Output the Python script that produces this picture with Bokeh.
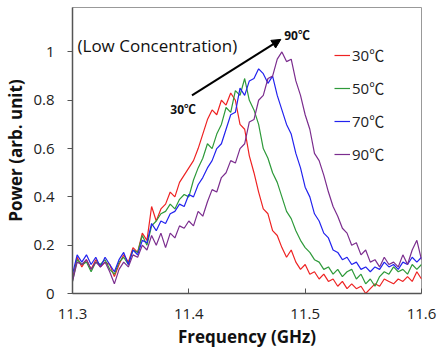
from bokeh.plotting import figure
from bokeh.models import Range1d, FixedTicker, Legend, LegendItem, Label, Arrow, NormalHead
from bokeh.embed import file_html
from bokeh.resources import INLINE

# Frequency grid (GHz)
freq = [round(11.3 + 0.004 * i, 3) for i in range(76)]

p30 = [0.06, 0.15, 0.11, 0.14, 0.10, 0.14, 0.11, 0.13, 0.12, 0.07,
       0.12, 0.16, 0.13, 0.19, 0.17, 0.25, 0.22, 0.36, 0.30, 0.35,
       0.37, 0.42, 0.40, 0.46, 0.49, 0.52, 0.55, 0.60, 0.66, 0.72,
       0.76, 0.74, 0.80, 0.78, 0.83, 0.80, 0.70, 0.68, 0.57, 0.50,
       0.42, 0.35, 0.33, 0.26, 0.24, 0.19, 0.15, 0.18, 0.13, 0.10,
       0.12, 0.08, 0.09, 0.06, 0.08, 0.05, 0.06, 0.03, 0.05, 0.02,
       0.04, 0.02, 0.03, 0.00, 0.02, 0.04, 0.03, 0.06, 0.05, 0.04,
       0.06, 0.05, 0.07, 0.05, 0.09, 0.06]

p50 = [0.05, 0.14, 0.12, 0.13, 0.09, 0.13, 0.12, 0.14, 0.10, 0.08,
       0.13, 0.15, 0.12, 0.18, 0.17, 0.24, 0.20, 0.28, 0.30, 0.33,
       0.34, 0.37, 0.35, 0.39, 0.41, 0.40, 0.47, 0.52, 0.56, 0.62,
       0.60, 0.66, 0.70, 0.77, 0.75, 0.84, 0.82, 0.89, 0.80, 0.76,
       0.70, 0.60, 0.56, 0.50, 0.46, 0.40, 0.34, 0.31, 0.26, 0.22,
       0.19, 0.17, 0.14, 0.13, 0.10, 0.11, 0.08, 0.10, 0.07, 0.09,
       0.10, 0.06, 0.08, 0.04, 0.06, 0.03, 0.07, 0.09, 0.08, 0.11,
       0.09, 0.10, 0.08, 0.12, 0.10, 0.12]

p70 = [0.08, 0.16, 0.13, 0.16, 0.12, 0.15, 0.11, 0.15, 0.12, 0.09,
       0.14, 0.17, 0.12, 0.18, 0.16, 0.22, 0.21, 0.29, 0.26, 0.30,
       0.29, 0.33, 0.34, 0.37, 0.36, 0.41, 0.40, 0.45, 0.48, 0.52,
       0.55, 0.60, 0.62, 0.68, 0.74, 0.75, 0.85, 0.82, 0.88, 0.89,
       0.93, 0.91, 0.87, 0.90, 0.82, 0.76, 0.70, 0.66, 0.58, 0.52,
       0.44, 0.40, 0.33, 0.30, 0.25, 0.23, 0.18, 0.17, 0.14, 0.15,
       0.12, 0.13, 0.10, 0.11, 0.09, 0.11, 0.10, 0.13, 0.11, 0.12,
       0.10, 0.13, 0.12, 0.15, 0.13, 0.15]

p90 = [0.05, 0.13, 0.12, 0.14, 0.10, 0.13, 0.11, 0.13, 0.09, 0.04,
       0.10, 0.13, 0.11, 0.16, 0.15, 0.20, 0.18, 0.24, 0.20, 0.25,
       0.19, 0.25, 0.23, 0.28, 0.27, 0.30, 0.28, 0.34, 0.32, 0.38,
       0.43, 0.42, 0.48, 0.50, 0.55, 0.54, 0.60, 0.62, 0.71, 0.72,
       0.80, 0.82, 0.89, 0.90, 0.97, 1.00, 0.96, 0.97, 0.88, 0.82,
       0.74, 0.68, 0.58, 0.55, 0.49, 0.42, 0.36, 0.32, 0.27, 0.25,
       0.20, 0.21, 0.16, 0.18, 0.13, 0.14, 0.11, 0.15, 0.12, 0.13,
       0.11, 0.16, 0.12, 0.18, 0.22, 0.14]

series_labels = ["30℃", "50℃", "70℃", "90℃"]
series_values = [p30, p50, p70, p90]
series_colors = ["#ee2222", "#2e9a3a", "#2222ee", "#7b2d8e"]

x_ticks = [11.3, 11.4, 11.5, 11.6]
y_ticks = [0, 0.2, 0.4, 0.6, 0.8, 1.0]
y_tick_labels = ["0", "0.2", "0.4", "0.6", "0.8", "1"]

FONT = "Open Sans"
FONT_C = "Open Sans, Noto Sans CJK JP"

p = figure(width=438, height=354, output_backend="svg", toolbar_location=None,
           x_range=Range1d(11.3, 11.6), y_range=Range1d(0, 1.184),
           min_border_left=72, min_border_right=17, min_border_top=7,
           min_border_bottom=61)
p.xgrid.visible = False
p.ygrid.visible = False
p.outline_line_color = "#999999"
p.outline_line_width = 1
p.background_fill_color = "white"
p.border_fill_color = "white"

items = []
for lab, vals, col in zip(series_labels, series_values, series_colors):
    r = p.line(freq, vals, line_color=col, line_width=1.2)
    items.append(LegendItem(label=lab, renderers=[r]))

for ax in (p.xaxis[0], p.yaxis[0]):
    ax.axis_line_color = "#555555"
    ax.axis_line_width = 1.5
    ax.major_tick_line_color = "#555555"
    ax.minor_tick_line_color = None
    ax.major_label_text_font = FONT
    ax.major_label_text_font_size = "15px"
    ax.major_label_text_color = "#222222"
    ax.axis_label_text_font = FONT
    ax.axis_label_text_font_size = "17px"
    ax.axis_label_text_font_style = "bold"
    ax.axis_label_text_color = "#111111"

p.xaxis.ticker = FixedTicker(ticks=x_ticks)
p.xaxis.major_tick_in = 5
p.xaxis.major_tick_out = 0
p.xaxis.major_label_standoff = 15
p.xaxis.axis_label = "Frequency (GHz)"
p.xaxis.axis_label_standoff = 3

p.yaxis.ticker = FixedTicker(ticks=y_ticks)
p.yaxis.major_label_overrides = {t: s for t, s in zip(y_ticks, y_tick_labels)}
p.yaxis.major_tick_in = 0
p.yaxis.major_tick_out = 5
p.yaxis.major_label_standoff = 13
p.yaxis.axis_label = "Power (arb. unit)"
p.yaxis.axis_label_standoff = 3

legend = Legend(items=items, location=(262, 129), orientation="vertical",
                glyph_width=16, glyph_height=20, label_height=20,
                label_standoff=2, spacing=12, padding=0, margin=0,
                border_line_color=None, background_fill_alpha=0,
                label_text_font=FONT_C, label_text_font_size="15px",
                label_text_color="#222222")
p.add_layout(legend, "center")

p.add_layout(Label(x=11.3043, y=1.027, text="(Low Concentration)",
                   text_font=FONT, text_font_size="17px", text_baseline="middle",
                   text_color="#111111"))
p.add_layout(Label(x=11.3841, y=0.762, text="30℃", text_font=FONT_C,
                   text_font_size="12px", text_font_style="bold",
                   text_baseline="middle", text_color="#111111"))
p.add_layout(Label(x=11.482, y=1.068, text="90℃", text_font=FONT_C,
                   text_font_size="12px", text_font_style="bold",
                   text_baseline="middle", text_color="#111111"))
p.add_layout(Arrow(end=NormalHead(size=9, fill_color="black", line_color="black"),
                   x_start=11.4027, y_start=0.82, x_end=11.4791, y_end=1.052,
                   line_width=2, line_color="black"))

open("out.html", "w").write(file_html(p, INLINE))
